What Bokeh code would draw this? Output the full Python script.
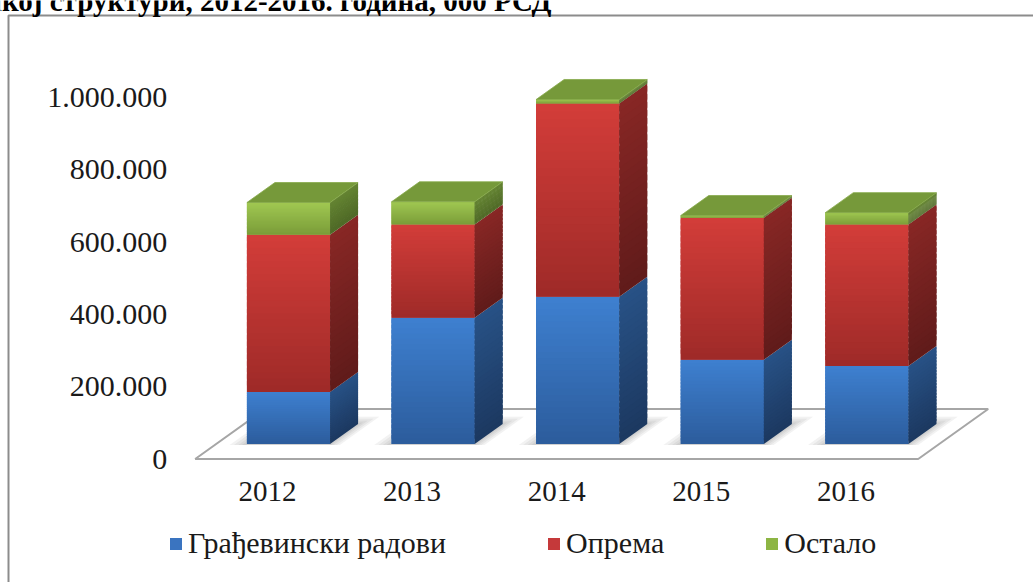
import numpy as np
from bokeh.plotting import figure
from bokeh.models import (ColumnDataSource, FixedTicker, Legend, LegendItem, Label)
from bokeh.embed import file_html
from bokeh.resources import INLINE

# ---------------- data ----------------
years = ["2012", "2013", "2014", "2015", "2016"]
gradjevinski = [144000, 349000, 407000, 233000, 216000]   # Грађевински радови
oprema = [435000, 258000, 535000, 393000, 391000]          # Опрема
ostalo = [89000, 63000, 11000, 6000, 33000]                # Остало
series_names = ["Грађевински радови", "Опрема", "Остало"]
y_ticks = [0, 200000, 400000, 600000, 800000, 1000000]
y_tick_labels = ["0", "200.000", "400.000", "600.000", "800.000", "1.000.000"]
title_text = "Инвестиције по техничкој структури, 2012-2016. година, 000 РСД"

# ---------------- geometry / style ----------------
OFF = 0                              # image position of the canvas
W, H = 1033, 582
X0_PX, X_PX = 267.0 - OFF, 144.6     # canvas px of first category (front plane), px per category
Y0_PX, Y_PX = 458.5 - OFF, 361.5e-6  # canvas px of value 0, px per value unit
x_start, x_end = -X0_PX / X_PX, (W - X0_PX) / X_PX
y_start, y_end = -(H - Y0_PX) / Y_PX, Y0_PX / Y_PX
DX, DY = 70.0 / X_PX, 50.0 / Y_PX   # floor depth projection (per unit depth)
ZF, ZD, HW = 0.3, 0.4, 0.2875       # bar front depth, bar depth, half width
NS = 24                              # gradient slices


def px2x(px):  # image px -> data x
    return x_start + (px - OFF) / X_PX


def px2y(py):  # image px -> data y
    return y_end - (py - OFF) / Y_PX


FONT = "Liberation Serif"

front_cols = {  # (bottom, top)
    0: ((44, 92, 156), (62, 128, 208)),
    1: ((158, 42, 40), (211, 61, 57)),
    2: ((122, 156, 56), (160, 200, 82)),
}
side_cols = {
    0: ((28, 56, 96), (40, 82, 134)),
    1: ((96, 27, 26), (136, 39, 37)),
    2: ((78, 104, 38), (100, 132, 50)),
}
top_col = "#76993a"
legend_cols = ["#3a74c0", "#c5393a", "#8db544"]


def lerp(c1, c2, t):
    return "#%02x%02x%02x" % tuple(int(round(a + (b - a) * t)) for a, b in zip(c1, c2))


p = figure(width=W, height=H, x_range=(x_start, x_end), y_range=(y_start, y_end),
           output_backend="svg", toolbar_location=None, min_border=0)
p.grid.visible = False
p.outline_line_color = None
p.background_fill_color = "white"
p.border_fill_color = "white"

# chart border (left and top edges only; the rest lies outside the picture)
p.line([px2x(8), px2x(8), px2x(1100)], [px2y(650), px2y(15), px2y(15)],
       line_color="#8c8c8c", line_width=2)

# floor
fx = [-0.5, 4.5, 4.5 + DX, -0.5 + DX]
fy = [0, 0, DY, DY]
p.patch(fx, fy, fill_color="white", line_color="#a6a6a6", line_width=2)

# shadows
sh_xs, sh_ys = [], []
for i in range(len(years)):
    for e in [0.11, 0.08, 0.05, 0.025]:
        z0, z1 = ZF - 0.02, ZF + ZD + e * 1.3
        xa, xb = i - HW - e, i + HW + e * 0.7
        pts = [(xa, z0), (xb, z0), (xb, z1), (xa, z1)]
        sh_xs.append([x + z * DX for x, z in pts])
        sh_ys.append([z * DY for x, z in pts])
p.patches(sh_xs, sh_ys, fill_color="#5a5a5a", fill_alpha=0.08, line_color=None)

# bars: solid stacked front faces (one renderer per series, used by legend)
stacks = [gradjevinski, oprema, ostalo]
ox, oy = ZF * DX, ZF * DY
xs_c = np.arange(len(years))
bottoms = np.zeros(len(years))
series_renderers = []
for s, vals in enumerate(stacks):
    v = np.array(vals, dtype=float)
    r = p.quad(left=xs_c - HW + ox, right=xs_c + HW + ox, bottom=bottoms + oy,
               top=bottoms + v + oy, fill_color=legend_cols[s], line_color=None)
    series_renderers.append(r)
    bottoms = bottoms + v

# gradient overlay on front and side faces
fq = dict(left=[], right=[], bottom=[], top=[], color=[])
sp = dict(xs=[], ys=[], color=[])
tp = dict(xs=[], ys=[])
for i in range(len(years)):
    base = 0.0
    for s, vals in enumerate(stacks):
        v = vals[i]
        b, t = base, base + v
        step = (t - b) / NS
        for k in range(NS):
            sb = b + step * k
            st = min(t, b + step * (k + 1) + step * 0.7)
            frac = (k + 0.5) / NS
            fq["left"].append(i - HW + ox)
            fq["right"].append(i + HW + ox)
            fq["bottom"].append(sb + oy)
            fq["top"].append(st + oy)
            fq["color"].append(lerp(front_cols[s][0], front_cols[s][1], frac))
            rx = i + HW + ox
            sp["xs"].append([rx, rx + ZD * DX, rx + ZD * DX, rx])
            sp["ys"].append([sb + oy, sb + oy + ZD * DY, st + oy + ZD * DY, st + oy])
            sp["color"].append(lerp(side_cols[s][0], side_cols[s][1], frac))
        base = t
    lx, rx = i - HW + ox, i + HW + ox
    T = base + oy
    tp["xs"].append([lx, rx, rx + ZD * DX, lx + ZD * DX])
    tp["ys"].append([T, T, T + ZD * DY, T + ZD * DY])

p.quad(left="left", right="right", bottom="bottom", top="top", source=ColumnDataSource(fq),
       fill_color="color", line_color=None)
p.patches("xs", "ys", source=ColumnDataSource(sp), fill_color="color", line_color=None)
p.patches("xs", "ys", source=ColumnDataSource(tp), fill_color=top_col,
          line_color="#86a94a", line_width=0.8)

# axes
p.yaxis.fixed_location = -0.5
p.yaxis.ticker = FixedTicker(ticks=y_ticks)
p.yaxis.major_label_overrides = {t: l for t, l in zip(y_ticks, y_tick_labels)}
p.xaxis.fixed_location = 0
p.xaxis.ticker = FixedTicker(ticks=list(range(len(years))))
p.xaxis.major_label_overrides = {i: y for i, y in enumerate(years)}
for ax in (p.xaxis, p.yaxis):
    ax.axis_line_color = None
    ax.major_tick_line_color = None
    ax.minor_tick_line_color = None
    ax.major_tick_in = 0
    ax.major_tick_out = 0
    ax.minor_tick_out = 0
    ax.major_label_text_font = FONT
    ax.major_label_text_color = "#1a1a1a"
p.yaxis.major_label_text_font_size = "30px"
p.xaxis.major_label_text_font_size = "29px"
p.yaxis.major_label_standoff = 28
p.xaxis.major_label_standoff = 23

# legend
items = [LegendItem(label=name, renderers=[r]) for name, r in zip(series_names, series_renderers)]
legend = Legend(items=items, orientation="horizontal", location=(168 - OFF, 22),
                glyph_width=15, glyph_height=15, label_standoff=5, spacing=100,
                padding=0, margin=0, border_line_color=None, background_fill_alpha=0,
                label_text_font=FONT, label_text_font_size="30px",
                label_text_color="#1a1a1a")
p.add_layout(legend)

# (cut) heading, as in the source picture
p.add_layout(Label(x=px2x(551), y=px2y(0), text=title_text, text_align="right",
                   text_baseline="alphabetic", text_font=FONT, text_font_style="bold",
                   text_font_size="29px", text_color="black"))

open("out.html", "w").write(file_html(p, INLINE))
